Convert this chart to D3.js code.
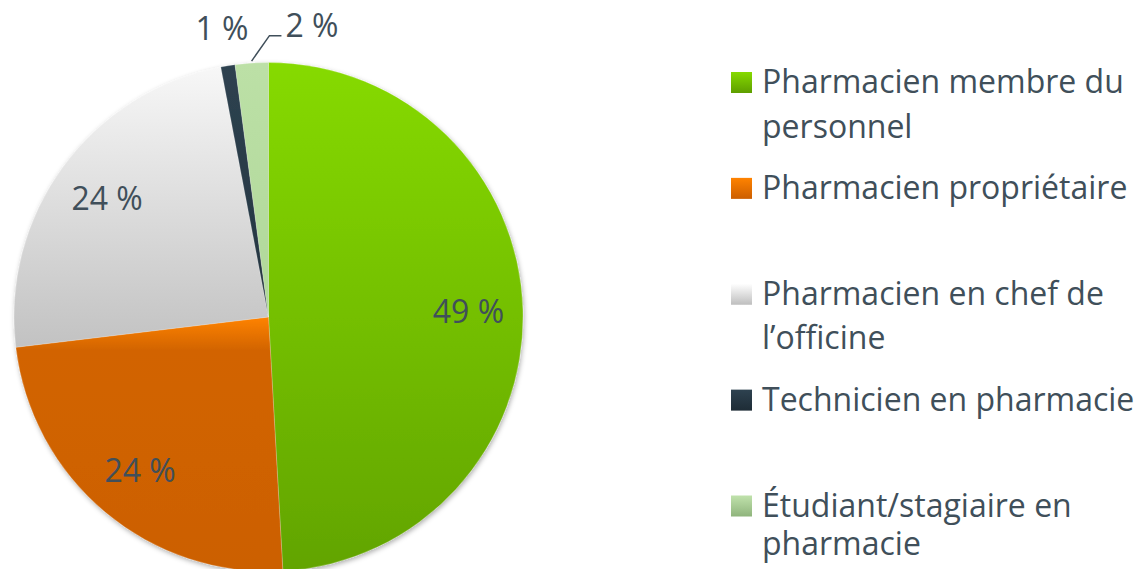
<!DOCTYPE html>
<html>
<head>
<meta charset="utf-8">
<script src="https://cdn.jsdelivr.net/npm/d3@7"></script>
<style>
  html, body { margin: 0; padding: 0; background: #ffffff; }
  svg { display: block; }
  text { font-family: "Open Sans", "DejaVu Sans", sans-serif; fill: #404F5A; }
</style>
</head>
<body>
<svg id="chart" width="1144" height="569"></svg>
<script>
// ---- data ----
const categories = [
  "Pharmacien membre du personnel",
  "Pharmacien propriétaire",
  "Pharmacien en chef de l’officine",
  "Technicien en pharmacie",
  "Étudiant/stagiaire en pharmacie"
];
// slice shares (percent)
const values = [49.1, 24.0, 23.9, 0.9, 2.1];

// ---- styles ----
const sliceStops = [
  [[0, "#86DA00"], [1, "#62A400"]],
  [[0, "#FF8300"], [0.13, "#D26400"], [1, "#CC6000"]],
  [[0, "#F7F7F7"], [1, "#C2C2C2"]],
  [[0, "#2E4250"], [1, "#24343F"]],
  [[0, "#BCE0A6"], [1, "#B0D89A"]]
];
const swatchStops = [
  [[0, "#86DA00"], [1, "#5E9E00"]],
  [[0, "#FF8300"], [1, "#CC5E00"]],
  [[0, "#FFFFFF"], [1, "#BEBEBE"]],
  [[0, "#2E4250"], [1, "#1E2C36"]],
  [[0, "#C0E2AC"], [1, "#8FB47C"]]
];

const svg = d3.select("#chart");
const W = 1144, H = 569;
const cx = 268.5, cy = 317, R = 254.5;
const fontSize = 32;

const defs = svg.append("defs");
function addGrad(id, stops) {
  const g = defs.append("linearGradient").attr("id", id)
    .attr("x1", 0).attr("y1", 0).attr("x2", 0).attr("y2", 1);
  stops.forEach(s => g.append("stop").attr("offset", s[0]).attr("stop-color", s[1]));
}
sliceStops.forEach((s, i) => addGrad("slice" + i, s));
swatchStops.forEach((s, i) => addGrad("sw" + i, s));

const f = defs.append("filter").attr("id", "shadow")
  .attr("x", "-10%").attr("y", "-10%").attr("width", "120%").attr("height", "120%");
f.append("feDropShadow").attr("dx", 1).attr("dy", 2).attr("stdDeviation", 2.5)
  .attr("flood-color", "#000").attr("flood-opacity", 0.32);

const pie = d3.pie().sort(null).value(d => d);
const arcs = pie(values);
const total = d3.sum(values);
const arc = d3.arc().innerRadius(0).outerRadius(R);
const inLabelArc = d3.arc().innerRadius(200).outerRadius(200);
const outLabelArc = d3.arc().innerRadius(292).outerRadius(292);
const edgeArc = d3.arc().innerRadius(R + 2).outerRadius(R + 2);
const fmt = v => Math.round(v / total * 100) + " %";

const g = svg.append("g").attr("transform", `translate(${cx},${cy})`);
g.append("g").attr("filter", "url(#shadow)")
  .selectAll("path").data(arcs).join("path")
  .attr("d", arc)
  .attr("fill", (d, i) => `url(#slice${i})`)
  .attr("stroke", "#ffffff").attr("stroke-opacity", 0.35).attr("stroke-width", 0.6);

// data labels
const lbl = g.append("g").attr("font-size", fontSize);
let prevRight = -Infinity;
arcs.forEach((d, i) => {
  const share = values[i] / total;
  if (share >= 0.05) {
    const [x, y] = inLabelArc.centroid(d);
    lbl.append("text").attr("x", x).attr("y", y).attr("dy", "0.36em")
      .attr("text-anchor", "middle").text(fmt(values[i]));
  } else {
    const [x, y] = outLabelArc.centroid(d);
    const t = lbl.append("text").attr("y", y).attr("dy", "0.36em").text(fmt(values[i]));
    const w = t.node().getComputedTextLength();
    let left = x - w / 2;
    if (left < prevRight + 10) {
      left = prevRight + 37;
      const [ex, ey] = edgeArc.centroid(d);
      const ly = y + 10;
      lbl.append("path")
        .attr("d", d3.line()([[ex, ey], [left - 16, ly], [left - 4, ly]]))
        .attr("fill", "none").attr("stroke", "#404F5A").attr("stroke-width", 1.5);
    }
    t.attr("x", left);
    prevRight = left + w;
  }
});

// legend
const legX = 731, textX = 762, sw = 21;
const legY = d3.scaleLinear().domain([0, categories.length - 1]).range([93, 516.5]);
const lineH = 44.5, maxW = 400;
const leg = svg.append("g").attr("font-size", fontSize);
categories.forEach((name, i) => {
  const base = legY(i);
  leg.append("rect").attr("x", legX).attr("y", base - sw).attr("width", sw).attr("height", sw)
    .attr("fill", `url(#sw${i})`);
  const t = leg.append("text").attr("x", textX).attr("y", base);
  const words = name.split(" ");
  let line = [], ln = 0;
  let ts = t.append("tspan").attr("x", textX).attr("y", base);
  words.forEach(w => {
    line.push(w);
    ts.text(line.join(" "));
    if (ts.node().getComputedTextLength() > maxW && line.length > 1) {
      line.pop();
      ts.text(line.join(" "));
      line = [w];
      ln++;
      const ly = Math.min(base + ln * lineH, H - 14);
      ts = t.append("tspan").attr("x", textX).attr("y", ly).text(w);
    }
  });
});
</script>
</body>
</html>
